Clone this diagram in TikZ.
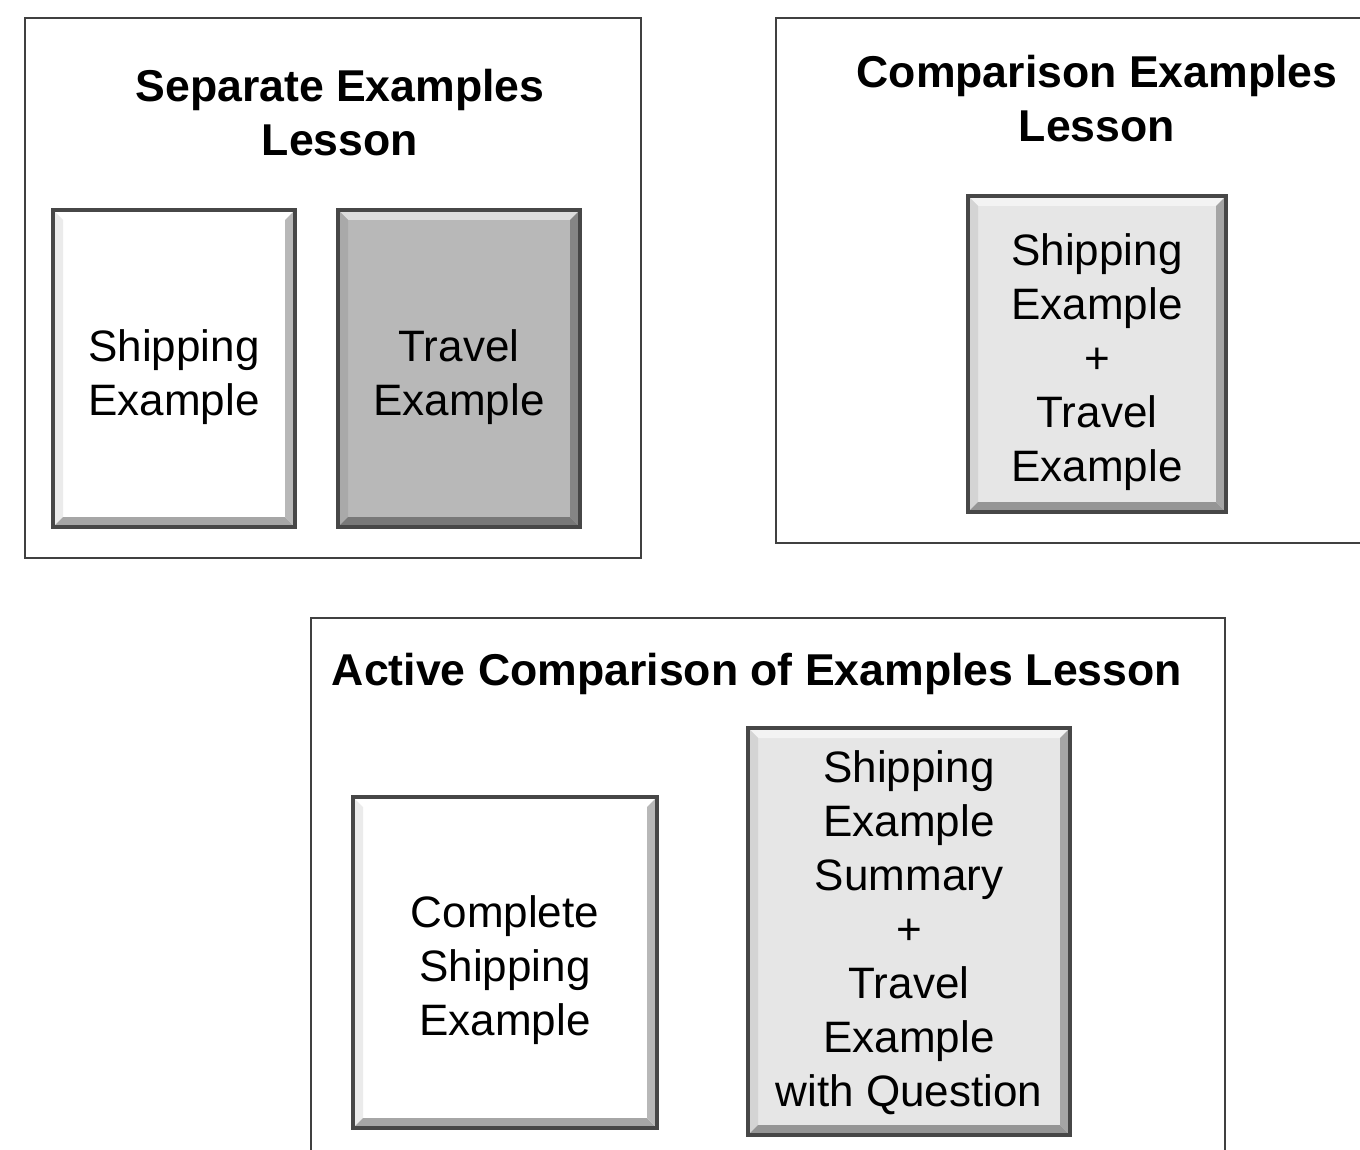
\documentclass[tikz,border=0pt]{standalone}
\usepackage{fontspec}
\setmainfont{Liberation Sans}
\usepackage{xcolor}
\definecolor{darkcard}{RGB}{184,184,184}
\definecolor{lightcard}{RGB}{230,230,230}
\usepackage{tikz}
\usetikzlibrary{positioning}

\begin{document}
\begin{tikzpicture}[
    x=0.5pt, y=-0.5pt,
    panel/.style ={rectangle, draw=black!75, line width=0.6pt,
                   inner sep=0pt},
    paneltitle/.style ={font=\bfseries\fontsize{22.3}{27}\selectfont,
                   align=center, inner sep=0pt},
    cardtext/.style ={align=center, inner sep=0pt,
                   font=\fontsize{22}{27}\selectfont},
    card/.style ={rectangle, draw=black!72, line width=1.6pt, fill=#1,
                   inner sep=0pt,
                   path picture={
                     \fill[#1!50!white]
                       (path picture bounding box.north west) -- (path picture bounding box.north east)
                       -- ([shift={(-5pt,-5pt)}]path picture bounding box.north east)
                       -- ([shift={(5pt,-5pt)}]path picture bounding box.north west) -- cycle;
                     \fill[#1!92!black]
                       (path picture bounding box.north west) -- (path picture bounding box.south west)
                       -- ([shift={(5pt,5pt)}]path picture bounding box.south west)
                       -- ([shift={(5pt,-5pt)}]path picture bounding box.north west) -- cycle;
                     \fill[#1!65!black]
                       (path picture bounding box.south west) -- (path picture bounding box.south east)
                       -- ([shift={(-5pt,5pt)}]path picture bounding box.south east)
                       -- ([shift={(5pt,5pt)}]path picture bounding box.south west) -- cycle;
                     \fill[#1!72!black]
                       (path picture bounding box.north east) -- (path picture bounding box.south east)
                       -- ([shift={(-5pt,5pt)}]path picture bounding box.south east)
                       -- ([shift={(-5pt,-5pt)}]path picture bounding box.north east) -- cycle;
                   }}
]
\useasboundingbox (0,0) rectangle (1360,1150);
\clip (0,0) rectangle (1360,1150);

%% --- cadres des trois lecons ---
\node[panel, minimum width=308pt, minimum height=270pt]   (sepPanel) at (333,288)  {};
\node[panel, minimum width=300pt, minimum height=262.5pt] (cmpPanel) at (1076,280.5) {};
\node[panel, minimum width=457pt, minimum height=280pt]   (actPanel) at (768,898)  {};

%% --- titres ---
\node[paneltitle] (sepTitle) at (340,113) {Separate Examples\\Lesson};
\node[paneltitle] (cmpTitle) at (1097,99) {Comparison Examples\\Lesson};
\node[paneltitle] (actTitle) at (757,674) {Active Comparison of Examples Lesson};

%% --- lecon separee ---
\node[card=white, minimum width=121pt, minimum height=158.5pt] (sepShip) at (174,368.5) {};
\node[card=darkcard, minimum width=121pt, minimum height=158.5pt] (sepTravel) at (459,368.5) {};
\node[cardtext] (sepShipText) at ([yshift=-4.5pt]sepShip.center) {Shipping\\Example};
\node[cardtext] (sepTravelText) at ([yshift=-4.5pt]sepTravel.center) {Travel\\Example};

%% --- lecon comparaison ---
\node[card=lightcard, minimum width=129pt, minimum height=158pt] (cmpBoth) at (1097,354) {};
\node[cardtext] (cmpBothText) at ([yshift=-4pt]cmpBoth.center)
    {Shipping\\Example\\+\\Travel\\Example};

%% --- lecon active ---
\node[card=white, minimum width=152pt, minimum height=165.5pt] (actShip) at (505,962.5) {};
\node[card=lightcard, minimum width=161pt, minimum height=203.5pt] (actBoth) at (909,931.5) {};
\node[cardtext] (actShipText) at ([yshift=-4pt]actShip.center) {Complete\\Shipping\\Example};
\node[cardtext] (actBothText) at ([yshift=-0.5pt]actBoth.center)
    {Shipping\\Example\\Summary\\+\\Travel\\Example\\with Question};
\end{tikzpicture}
\end{document}
